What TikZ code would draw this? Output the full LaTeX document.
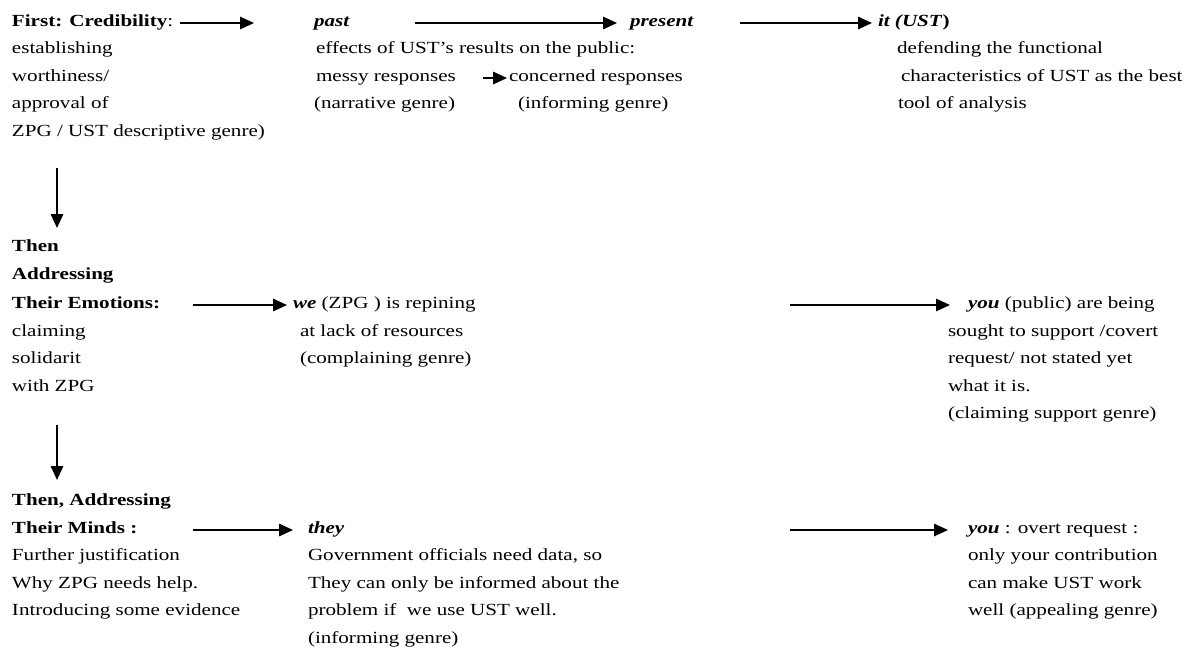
\documentclass[tikz,border=0pt]{standalone}
\usepackage{fontspec}
\setmainfont{Liberation Serif}[FakeStretch=1.24]
\usetikzlibrary{arrows.meta}

\tikzset{
  txt/.style={anchor=base west, inner sep=0pt, outer sep=0pt,
              text height=0.8em, text depth=0.2em,
              font=\fontsize{17}{20}\selectfont},
  hd/.style={txt, font=\fontsize{17}{20}\selectfont\bfseries},
  kw/.style={txt, font=\fontsize{17}{20}\selectfont\bfseries\itshape},
  arr/.style={line width=1.6pt, -{Triangle[length=14pt,width=12.5pt]}},
}

\begin{document}
\begin{tikzpicture}[x=1pt,y=-1pt]
\fill[white] (0,0) rectangle (1204,651);
\useasboundingbox (0,0) rectangle (1204,651);

% ---------- first stage: credibility ----------
\node[txt] (h1) at (12,26) {\textbf{First: Credibility}:};
\node[txt] (a1) at (12,53)  {establishing};
\node[txt] (a2) at (12,81)  {worthiness/};
\node[txt] (a3) at (12,108) {approval of};
\node[txt] (a4) at (12,136) {ZPG / UST descriptive genre)};

\node[kw]  (past) at (314,26) {past};
\node[txt] (b1) at (316,53)  {effects of UST’s results on the public:};
\node[txt] (b2) at (316,81)  {messy responses};
\node[txt] (b3) at (314,108) {(narrative genre)};
\node[txt] (c2) at (509,81)  {concerned responses};
\node[txt] (c3) at (518,108) {(informing genre)};

\node[kw]  (present) at (630,26) {present};

\node[kw]  (it) at (878,26) {it (UST\textup{)}};
\node[txt] (d1) at (897,53)  {defending the functional};
\node[txt] (d2) at (901,81)  {characteristics of UST as the best};
\node[txt] (d3) at (898,108) {tool of analysis};

\coordinate (t1) at (180,0);
\coordinate (t2) at (415,0);
\coordinate (t3) at (740,0);
\coordinate (t4) at (483,0);
\draw[arr, shorten >=60pt] (t1 |- past.west) -- (past.west);
\draw[arr, shorten >=13pt] (t2 |- present.west) -- (present.west);
\draw[arr, shorten >=6pt]  (t3 |- it.west) -- (it.west);
\draw[arr, shorten >=2pt]  (t4 |- c2.west) -- (c2.west);

% ---------- second stage: emotions ----------
\node[hd]  (e1) at (12,251) {Then};
\node[hd]  (e2) at (12,279) {Addressing};
\node[hd]  (e3) at (12,308) {Their Emotions:};
\node[txt] (e4) at (12,336) {claiming};
\node[txt] (e5) at (12,363) {solidarit};
\node[txt] (e6) at (12,391) {with ZPG};

\node[txt] (we) at (293,308) {\textbf{\textit{we}} (ZPG ) is repining};
\node[txt] (f2) at (300,336) {at lack of resources};
\node[txt] (f3) at (300,363) {(complaining genre)};

\node[txt] (g1) at (968,308) {\textbf{\textit{you}} (public) are being};
\node[txt] (g2) at (948,336) {sought to support /covert};
\node[txt] (g3) at (948,363) {request/ not stated yet};
\node[txt] (g4) at (948,391) {what it is.};
\node[txt] (g5) at (948,418) {(claiming support genre)};

\coordinate (v1) at (57,168);
\draw[arr, shorten >=15pt] (v1) -- (v1 |- e1.north);
\coordinate (t5) at (193,0);
\coordinate (t6) at (790,0);
\draw[arr, shorten >=6pt]  (t5 |- we.west) -- (we.west);
\draw[arr, shorten >=18pt] (t6 |- g1.west) -- (g1.west);

% ---------- third stage: minds ----------
\node[hd]  (k1) at (12,505) {Then, Addressing};
\node[hd]  (k2) at (12,533) {Their Minds :};
\node[txt] (k3) at (12,560) {Further justification};
\node[txt] (k4) at (12,588) {Why ZPG needs help.};
\node[txt] (k5) at (12,615) {Introducing some evidence};

\node[kw]  (they) at (308,533) {they};
\node[txt] (m1) at (308,560) {Government officials need data, so};
\node[txt] (m2) at (308,588) {They can only be informed about the};
\node[txt] (m3) at (308,615) {problem if\ \ we use UST well.};
\node[txt] (m4) at (308,643) {(informing genre)};

\node[txt] (n1) at (968,533) {\textbf{\textit{you}} : overt request :};
\node[txt] (n2) at (968,560) {only your contribution};
\node[txt] (n3) at (968,588) {can make UST work};
\node[txt] (n4) at (968,615) {well (appealing genre)};

\coordinate (v2) at (57,425);
\draw[arr, shorten >=17pt] (v2) -- (v2 |- k1.north);
\draw[arr, shorten >=15pt] (t5 |- they.west) -- (they.west);
\draw[arr, shorten >=20pt] (t6 |- n1.west) -- (n1.west);
\end{tikzpicture}
\end{document}
